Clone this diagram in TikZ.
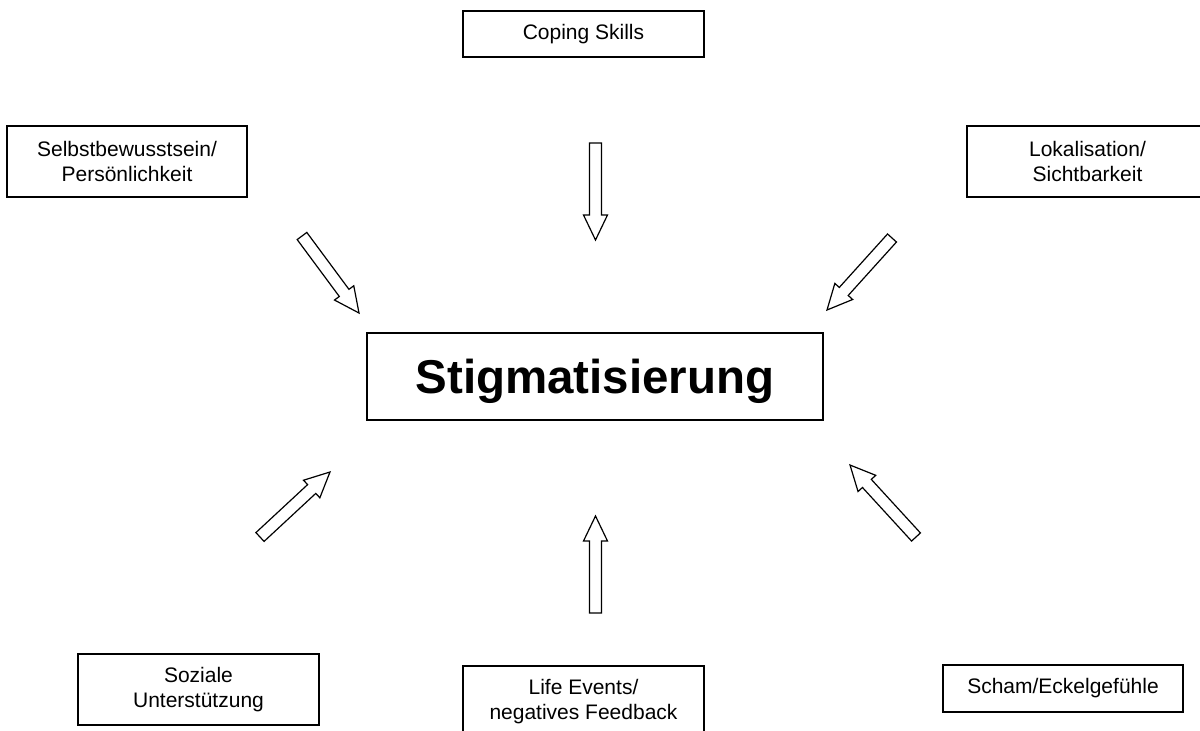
\documentclass[tikz,border=0pt]{standalone}
\usepackage{fontspec}
\setmainfont{Liberation Sans}
\usetikzlibrary{calc}
\tikzset{
  box/.style={draw=black, line width=1.3pt, fill=white, inner sep=0pt, align=center,
    font=\fontsize{21}{25}\selectfont},
  mainbox/.style={draw=black, line width=1.3pt, inner sep=0pt, align=center,
    text height=43pt, text depth=10pt,
    font=\fontsize{47.5}{50}\selectfont\bfseries},
  blockarr/.style={draw=black, line width=1.2pt, fill=white, line join=miter}
}
\newcommand{\blockarrow}[3]{%
  \coordinate (#1-a) at #2;
  \coordinate (#1-b) at #3;
  \coordinate (#1-h) at ($(#1-b)!25pt!(#1-a)$);
  \draw[blockarr] ($(#1-a)!6pt!90:(#1-b)$) -- ($(#1-h)!6pt!-90:(#1-a)$)
    -- ($(#1-h)!12pt!-90:(#1-a)$) -- (#1-b) -- ($(#1-h)!12pt!90:(#1-a)$)
    -- ($(#1-h)!6pt!90:(#1-a)$) -- ($(#1-a)!6pt!-90:(#1-b)$) -- cycle;
}
\begin{document}
\begin{tikzpicture}[x=1pt,y=-1pt]
\useasboundingbox[fill=white] (0,0) rectangle (1200,731);

\node[box, minimum width=241pt, minimum height=46pt] (coping) at (583.5,34) {Coping Skills};
\node[box, minimum width=240pt, minimum height=71pt] (selbst) at (127,161.5) {Selbstbewusstsein/\\Persönlichkeit};
\node[box, minimum width=241pt, minimum height=71pt] (lokal) at (1087.5,161.5) {Lokalisation/\\Sichtbarkeit};
\node[mainbox, minimum width=456pt, minimum height=87pt] (stig) at (595,376.5) {Stigmatisierung};
\node[box, minimum width=241pt, minimum height=71pt] (sozial) at (198.5,689.5) {Soziale\\Unterstützung};
\node[box, minimum width=241pt, minimum height=71pt] (life) at (583.5,701.5) {Life Events/\\negatives Feedback};
\node[box, minimum width=240pt, minimum height=47pt] (scham) at (1063,688.5) {Scham/Eckelgefühle};

\blockarrow{acop}{(595.5,143)}{(595.5,240)}
\blockarrow{asel}{(302,236)}{(359,313)}
\blockarrow{alok}{(892,238)}{(827,310)}
\blockarrow{asoz}{(260,537)}{(330,472)}
\blockarrow{alif}{(595.5,613)}{(595.5,516)}
\blockarrow{asch}{(916,537)}{(850,465)}
\end{tikzpicture}
\end{document}
